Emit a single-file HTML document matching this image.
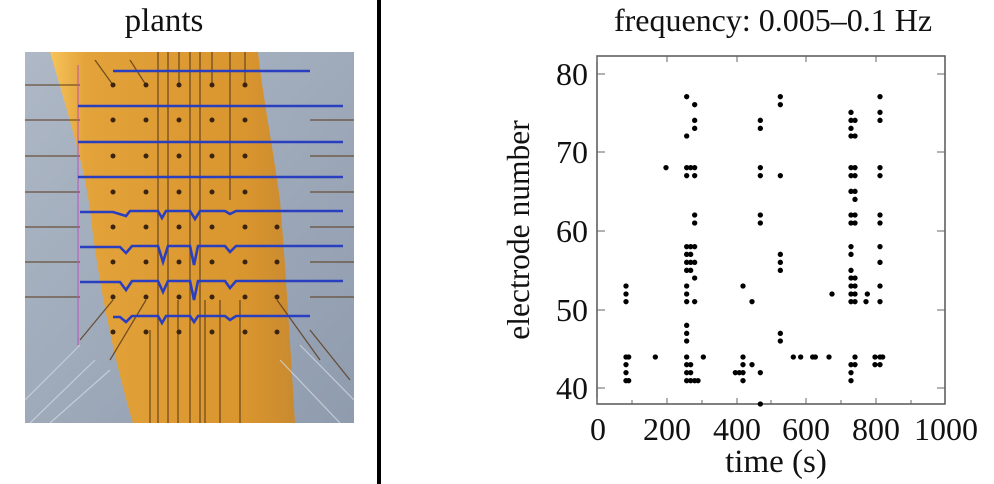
<!DOCTYPE html>
<html><head><meta charset="utf-8"><style>
html,body{margin:0;padding:0;background:#fff;}
svg{display:block;}
text{font-family:"Liberation Serif",serif;fill:#111;}
</style></head><body>
<svg width="994" height="484" viewBox="0 0 994 484" xmlns="http://www.w3.org/2000/svg">
<rect width="994" height="484" fill="#fff"/>
<text x="164" y="31" font-size="33" text-anchor="middle">plants</text>
<defs>
<linearGradient id="bg" x1="0" y1="0" x2="1" y2="1"><stop offset="0" stop-color="#aeb8c6"/><stop offset="1" stop-color="#8f9cae"/></linearGradient>
<linearGradient id="or" x1="0" y1="0" x2="1" y2="0"><stop offset="0" stop-color="#f6c45a"/><stop offset="0.15" stop-color="#e3a23a"/><stop offset="0.8" stop-color="#d9952e"/><stop offset="1" stop-color="#c98a30"/></linearGradient>
<clipPath id="cp"><rect x="25" y="52" width="329" height="371"/></clipPath>
</defs>
<g clip-path="url(#cp)">
<rect x="25" y="52" width="329" height="371" fill="url(#bg)"/>
<path d="M50,52 C70,120 85,170 90,210 C100,300 120,380 133,423 L295,423 C290,340 285,260 280,200 C270,130 262,90 258,52 Z" fill="url(#or)"/>
<g stroke="#5a3a1a" stroke-width="1.3" fill="none" opacity="0.8">
<path d="M158,52V423M168,52V423M190,52V423M200,52V423M205,300V423M220,300V423M230,52V200M240,300V423M178,300V423M150,330V423"/>
<path d="M113,85L95,60M146,85L130,60M179,85V52M212,85V52M245,85V52M113,300L80,340M146,300L110,360M277,300L320,360M310,330L350,380"/>
<path d="M25,85H80M25,120H80M25,156H80M25,192H80M25,227H80M25,262H80M25,297H80M310,120H354M310,156H354M310,192H354M310,227H354M310,262H354M310,297H354"/>
</g>
<g stroke="#cfd6de" stroke-width="1.2" fill="none" opacity="0.8">
<path d="M25,400L80,345M30,423L95,360M50,423L110,370M280,360L340,423M300,345L354,400"/>
</g>
<g fill="#3a2410">
<circle cx="113" cy="85" r="2.5"/><circle cx="146" cy="85" r="2.5"/><circle cx="179" cy="85" r="2.5"/><circle cx="212" cy="85" r="2.5"/><circle cx="245" cy="85" r="2.5"/>
<circle cx="113" cy="120" r="2.5"/><circle cx="146" cy="120" r="2.5"/><circle cx="179" cy="120" r="2.5"/><circle cx="212" cy="120" r="2.5"/><circle cx="245" cy="120" r="2.5"/>
<circle cx="113" cy="156" r="2.5"/><circle cx="146" cy="156" r="2.5"/><circle cx="179" cy="156" r="2.5"/><circle cx="212" cy="156" r="2.5"/><circle cx="245" cy="156" r="2.5"/>
<circle cx="113" cy="192" r="2.5"/><circle cx="146" cy="192" r="2.5"/><circle cx="179" cy="192" r="2.5"/><circle cx="212" cy="192" r="2.5"/><circle cx="245" cy="192" r="2.5"/>
<circle cx="113" cy="227" r="2.5"/><circle cx="146" cy="227" r="2.5"/><circle cx="179" cy="227" r="2.5"/><circle cx="212" cy="227" r="2.5"/><circle cx="245" cy="227" r="2.5"/><circle cx="277" cy="227" r="2.5"/>
<circle cx="113" cy="262" r="2.5"/><circle cx="146" cy="262" r="2.5"/><circle cx="179" cy="262" r="2.5"/><circle cx="212" cy="262" r="2.5"/><circle cx="245" cy="262" r="2.5"/><circle cx="277" cy="262" r="2.5"/>
<circle cx="113" cy="297" r="2.5"/><circle cx="146" cy="297" r="2.5"/><circle cx="179" cy="297" r="2.5"/><circle cx="212" cy="297" r="2.5"/><circle cx="245" cy="297" r="2.5"/><circle cx="277" cy="297" r="2.5"/>
<circle cx="113" cy="332" r="2.5"/><circle cx="146" cy="332" r="2.5"/><circle cx="179" cy="332" r="2.5"/><circle cx="212" cy="332" r="2.5"/><circle cx="245" cy="332" r="2.5"/><circle cx="277" cy="332" r="2.5"/>
</g>
<line x1="78" y1="65" x2="78" y2="345" stroke="#c050c0" stroke-width="1"/>
<g stroke="#2a3fc0" stroke-width="2.6" fill="none">
<path d="M113,71H310"/>
<path d="M78,106H343"/>
<path d="M78,142H343"/>
<path d="M78,177H343"/>
<path d="M80,212H113L126,216L130,211H158L162,218L166,211H190L195,219L200,211H225L230,214L236,211H343"/>
<path d="M80,247H120L126,253L132,246H158L163,262L168,246H190L194,265L198,246H225L230,252L236,246H343"/>
<path d="M80,282H120L126,290L132,281H158L163,292L168,281H190L194,300L198,281H225L230,288L236,281H343"/>
<path d="M113,317H120L126,322L132,316H158L162,323L166,316H190L194,322L198,316H225L230,320L236,316H310"/>
</g>
</g>
<rect x="377" y="0" width="4" height="484" fill="#000"/>
<text x="773" y="31" font-size="32" text-anchor="middle">frequency: 0.005–0.1 Hz</text>
<rect x="597" y="56" width="348" height="348" fill="none" stroke="#555" stroke-width="1.5"/>
<g stroke="#666" stroke-width="1">
<path d="M597,74h8M597,152h8M597,231h8M597,310h8M597,388h8M945,74h-8M945,152h-8M945,231h-8M945,310h-8M945,388h-8"/>
<path d="M597,404v-6M632,404v-4M667,404v-6M702,404v-4M737,404v-6M771,404v-4M806,404v-6M841,404v-4M876,404v-6M911,404v-4M597,56v6M667,56v6M737,56v6M806,56v6M876,56v6"/>
</g>
<g font-size="32" text-anchor="end">
<text x="588" y="85">80</text><text x="588" y="163">70</text><text x="588" y="242">60</text><text x="588" y="321">50</text><text x="588" y="399">40</text>
</g>
<g font-size="32" text-anchor="middle">
<text x="598" y="440">0</text><text x="667" y="440">200</text><text x="737" y="440">400</text><text x="806" y="440">600</text><text x="876" y="440">800</text><text x="946" y="440">1000</text>
</g>
<text x="776" y="472" font-size="33" text-anchor="middle">time (s)</text>
<text transform="translate(529,230) rotate(-90)" font-size="31.5" text-anchor="middle">electrode number</text>
<g transform="translate(540,50) scale(0.33333)" fill="#000">
<circle cx="258" cy="708" r="8"/><circle cx="258" cy="732" r="8"/><circle cx="258" cy="755" r="8"/><circle cx="258" cy="921" r="8"/><circle cx="258" cy="944" r="8"/><circle cx="258" cy="968" r="8"/><circle cx="258" cy="992" r="8"/><circle cx="266" cy="921" r="8"/><circle cx="266" cy="992" r="8"/>
<circle cx="346" cy="921" r="8"/><circle cx="378" cy="353" r="8"/>
<circle cx="440" cy="140" r="8"/><circle cx="440" cy="258" r="8"/><circle cx="440" cy="353" r="8"/><circle cx="440" cy="377" r="8"/><circle cx="440" cy="590" r="8"/><circle cx="440" cy="613" r="8"/><circle cx="440" cy="637" r="8"/><circle cx="440" cy="661" r="8"/><circle cx="440" cy="708" r="8"/><circle cx="440" cy="732" r="8"/><circle cx="440" cy="755" r="8"/><circle cx="440" cy="826" r="8"/><circle cx="440" cy="850" r="8"/><circle cx="440" cy="873" r="8"/><circle cx="440" cy="921" r="8"/><circle cx="440" cy="944" r="8"/><circle cx="440" cy="968" r="8"/><circle cx="440" cy="992" r="8"/>
<circle cx="452" cy="353" r="8"/><circle cx="452" cy="590" r="8"/><circle cx="452" cy="613" r="8"/><circle cx="452" cy="637" r="8"/><circle cx="452" cy="661" r="8"/><circle cx="452" cy="944" r="8"/><circle cx="452" cy="968" r="8"/><circle cx="452" cy="992" r="8"/>
<circle cx="464" cy="164" r="8"/><circle cx="464" cy="211" r="8"/><circle cx="464" cy="235" r="8"/><circle cx="464" cy="353" r="8"/><circle cx="464" cy="377" r="8"/><circle cx="464" cy="495" r="8"/><circle cx="464" cy="519" r="8"/><circle cx="464" cy="590" r="8"/><circle cx="464" cy="637" r="8"/><circle cx="464" cy="684" r="8"/><circle cx="464" cy="755" r="8"/><circle cx="464" cy="992" r="8"/><circle cx="474" cy="992" r="8"/><circle cx="490" cy="921" r="8"/>
<circle cx="586" cy="968" r="8"/><circle cx="598" cy="968" r="8"/><circle cx="609" cy="708" r="8"/><circle cx="609" cy="921" r="8"/><circle cx="609" cy="944" r="8"/><circle cx="609" cy="968" r="8"/><circle cx="609" cy="992" r="8"/><circle cx="636" cy="755" r="8"/><circle cx="636" cy="944" r="8"/>
<circle cx="661" cy="211" r="8"/><circle cx="661" cy="235" r="8"/><circle cx="661" cy="353" r="8"/><circle cx="661" cy="377" r="8"/><circle cx="661" cy="495" r="8"/><circle cx="661" cy="519" r="8"/><circle cx="661" cy="968" r="8"/><circle cx="661" cy="1062" r="8"/>
<circle cx="721" cy="140" r="8"/><circle cx="721" cy="164" r="8"/><circle cx="721" cy="377" r="8"/><circle cx="721" cy="613" r="8"/><circle cx="721" cy="637" r="8"/><circle cx="721" cy="661" r="8"/><circle cx="721" cy="850" r="8"/><circle cx="721" cy="873" r="8"/>
<circle cx="760" cy="921" r="8"/><circle cx="782" cy="921" r="8"/><circle cx="818" cy="921" r="8"/><circle cx="826" cy="921" r="8"/><circle cx="867" cy="921" r="8"/><circle cx="876" cy="732" r="8"/>
<circle cx="933" cy="187" r="8"/><circle cx="933" cy="211" r="8"/><circle cx="933" cy="235" r="8"/><circle cx="933" cy="258" r="8"/><circle cx="933" cy="353" r="8"/><circle cx="933" cy="377" r="8"/><circle cx="933" cy="424" r="8"/><circle cx="933" cy="495" r="8"/><circle cx="933" cy="519" r="8"/><circle cx="933" cy="590" r="8"/><circle cx="933" cy="613" r="8"/><circle cx="933" cy="661" r="8"/><circle cx="933" cy="684" r="8"/><circle cx="933" cy="708" r="8"/><circle cx="933" cy="732" r="8"/><circle cx="933" cy="755" r="8"/><circle cx="933" cy="944" r="8"/><circle cx="933" cy="968" r="8"/><circle cx="933" cy="992" r="8"/>
<circle cx="945" cy="211" r="8"/><circle cx="945" cy="258" r="8"/><circle cx="945" cy="353" r="8"/><circle cx="945" cy="377" r="8"/><circle cx="945" cy="424" r="8"/><circle cx="945" cy="448" r="8"/><circle cx="945" cy="495" r="8"/><circle cx="945" cy="519" r="8"/><circle cx="945" cy="684" r="8"/><circle cx="945" cy="708" r="8"/><circle cx="945" cy="732" r="8"/><circle cx="945" cy="755" r="8"/><circle cx="945" cy="921" r="8"/><circle cx="945" cy="944" r="8"/>
<circle cx="978" cy="755" r="8"/><circle cx="982" cy="732" r="8"/>
<circle cx="1005" cy="921" r="8"/><circle cx="1005" cy="944" r="8"/>
<circle cx="1020" cy="140" r="8"/><circle cx="1020" cy="187" r="8"/><circle cx="1020" cy="211" r="8"/><circle cx="1020" cy="353" r="8"/><circle cx="1020" cy="377" r="8"/><circle cx="1020" cy="495" r="8"/><circle cx="1020" cy="519" r="8"/><circle cx="1020" cy="590" r="8"/><circle cx="1020" cy="637" r="8"/><circle cx="1020" cy="708" r="8"/><circle cx="1020" cy="755" r="8"/><circle cx="1020" cy="921" r="8"/><circle cx="1020" cy="944" r="8"/><circle cx="1028" cy="921" r="8"/>
</g>
</svg>
</body></html>
